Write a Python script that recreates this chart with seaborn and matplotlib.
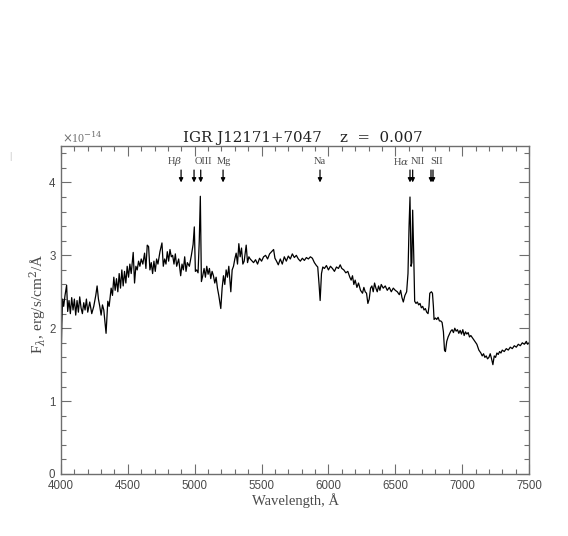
import numpy as np
import pandas as pd
import matplotlib
matplotlib.use("Agg")
import matplotlib.pyplot as plt
from matplotlib.ticker import MultipleLocator
import seaborn as sns

# ---- data ----
wavelength = [
    4000, 4006, 4012, 4020, 4030, 4042, 4050, 4060, 4070, 4080, 4090, 4100, 4110, 4120, 4130, 4140,
    4150, 4160, 4170, 4180, 4190, 4200, 4215, 4230, 4245, 4260, 4270, 4280, 4290, 4300, 4310, 4320,
    4337, 4350, 4360, 4375, 4385, 4395, 4405, 4415, 4425, 4435, 4445, 4455, 4465, 4475, 4485, 4495,
    4505, 4515, 4525, 4540, 4550, 4560, 4570, 4580, 4590, 4600, 4612, 4625, 4635, 4645, 4655, 4665,
    4675, 4685, 4695, 4705, 4715, 4725, 4740, 4755, 4765, 4775, 4785, 4795, 4805, 4815, 4825, 4835,
    4845, 4855, 4865, 4880, 4895, 4905, 4915, 4925, 4935, 4945, 4960, 4975, 4988, 4997, 5005, 5015,
    5025, 5034, 5042, 5050, 5060, 5070, 5080, 5090, 5100, 5110, 5120, 5130, 5140, 5150, 5160, 5170,
    5180, 5195, 5205, 5215, 5225, 5235, 5245, 5255, 5270, 5280, 5290, 5300, 5310, 5320, 5330, 5340,
    5350, 5360, 5370, 5385, 5395, 5405, 5415, 5425, 5440, 5455, 5470, 5485, 5500, 5515, 5530, 5545,
    5560, 5575, 5590, 5600, 5612, 5625, 5640, 5655, 5670, 5685, 5700, 5715, 5730, 5745, 5760, 5775,
    5790, 5805, 5820, 5835, 5850, 5865, 5880, 5895, 5910, 5920, 5930, 5938, 5948, 5958, 5970, 5985,
    6000, 6015, 6030, 6045, 6060, 6075, 6088, 6100, 6115, 6130, 6145, 6160, 6170, 6180, 6190, 6200,
    6213, 6225, 6240, 6255, 6265, 6275, 6285, 6295, 6305, 6315, 6325, 6335, 6345, 6355, 6365, 6375,
    6385, 6395, 6410, 6425, 6440, 6455, 6470, 6485, 6500, 6515, 6530, 6540, 6550, 6560, 6572, 6585,
    6595, 6603, 6610, 6618, 6624, 6630, 6638, 6645, 6655, 6665, 6675, 6685, 6695, 6705, 6715, 6725,
    6735, 6745, 6752, 6758, 6770, 6778, 6785, 6790, 6800, 6810, 6820, 6830, 6840, 6850, 6860, 6868,
    6875, 6885, 6895, 6905, 6915, 6925, 6935, 6945, 6955, 6965, 6975, 6985, 6995, 7005, 7015, 7025,
    7035, 7045, 7055, 7065, 7080, 7095, 7110, 7125, 7140, 7150, 7160, 7170, 7180, 7190, 7200, 7210,
    7220, 7230, 7240, 7250, 7260, 7270, 7280, 7290, 7300, 7315, 7330, 7345, 7360, 7375, 7390, 7405,
    7420, 7435, 7450, 7465, 7480, 7490, 7500,
]
flux = [
    1.50, 2.05, 2.40, 2.30, 2.45, 2.59, 2.23, 2.38, 2.20, 2.42, 2.25, 2.40, 2.18, 2.38, 2.22, 2.43,
    2.28, 2.20, 2.35, 2.25, 2.40, 2.22, 2.36, 2.20, 2.30, 2.45, 2.58, 2.40, 2.30, 2.18, 2.32, 2.25,
    1.93, 2.37, 2.30, 2.55, 2.45, 2.70, 2.52, 2.68, 2.50, 2.75, 2.55, 2.80, 2.58, 2.78, 2.62, 2.85,
    2.70, 2.88, 2.75, 3.04, 2.62, 2.85, 2.80, 2.92, 2.85, 2.95, 2.88, 3.03, 2.82, 3.14, 3.12, 2.80,
    2.90, 2.75, 2.92, 2.78, 2.95, 2.88, 3.05, 3.17, 2.85, 2.95, 2.88, 3.05, 2.92, 3.08, 2.98, 3.00,
    2.88, 3.02, 2.85, 2.95, 2.72, 2.88, 2.80, 2.98, 2.78, 2.90, 2.85, 3.00, 3.15, 3.39, 2.78, 2.80,
    2.76, 3.20, 3.81, 2.64, 2.72, 2.82, 2.70, 2.85, 2.74, 2.82, 2.68, 2.78, 2.72, 2.62, 2.70, 2.55,
    2.45, 2.27, 2.55, 2.72, 2.60, 2.80, 2.70, 2.85, 2.50, 2.80, 2.85, 2.95, 3.03, 2.88, 3.16, 2.98,
    3.10, 2.88, 2.92, 3.14, 2.90, 2.98, 2.95, 2.93, 2.90, 2.94, 2.88, 2.96, 2.92, 2.98, 3.00, 2.95,
    3.02, 3.05, 3.08, 2.96, 2.92, 2.87, 2.95, 2.88, 2.98, 2.92, 2.99, 2.95, 3.02, 2.97, 3.00, 2.95,
    2.92, 2.96, 2.93, 2.97, 2.95, 2.98, 2.96, 2.90, 2.86, 2.84, 2.60, 2.38, 2.75, 2.84, 2.82, 2.86,
    2.80, 2.85, 2.82, 2.78, 2.84, 2.82, 2.87, 2.82, 2.80, 2.76, 2.78, 2.70, 2.66, 2.72, 2.60, 2.66,
    2.56, 2.62, 2.52, 2.48, 2.56, 2.50, 2.48, 2.34, 2.40, 2.55, 2.58, 2.50, 2.62, 2.55, 2.50, 2.58,
    2.52, 2.60, 2.55, 2.58, 2.52, 2.56, 2.50, 2.55, 2.52, 2.50, 2.46, 2.52, 2.42, 2.36, 2.45, 2.50,
    2.75, 3.40, 3.80, 2.85, 2.90, 3.62, 3.00, 2.37, 2.34, 2.36, 2.32, 2.34, 2.28, 2.30, 2.25, 2.27,
    2.22, 2.20, 2.30, 2.48, 2.50, 2.48, 2.30, 2.12, 2.14, 2.12, 2.15, 2.10, 2.10, 2.08, 1.95, 1.70,
    1.68, 1.82, 1.88, 1.92, 1.96, 1.98, 1.94, 2.00, 1.96, 1.98, 1.93, 1.97, 1.92, 1.98, 1.90, 1.95,
    1.92, 1.94, 1.88, 1.90, 1.86, 1.82, 1.78, 1.70, 1.66, 1.62, 1.65, 1.60, 1.62, 1.58, 1.60, 1.65,
    1.58, 1.50, 1.62, 1.60, 1.66, 1.64, 1.68, 1.66, 1.70, 1.68, 1.72, 1.70, 1.74, 1.72, 1.76, 1.74,
    1.78, 1.76, 1.80, 1.78, 1.82, 1.78, 1.80,
]

# line markers: arrow positions and label texts/positions
arrow_wavelengths = [4898, 4995, 5045, 5212, 5937, 6610, 6630, 6767, 6782]
line_labels = ["H$\\beta$", "OIII", "Mg", "Na", "H$\\alpha$", "NII", "SII"]
label_wavelengths = [4850, 5064, 5219, 5937, 6542, 6668, 6808]

title_source = "IGR J12171+7047"
title_redshift = "z  =  0.007"

df = pd.DataFrame({"wavelength": wavelength, "flux": flux})

sns.set_style("ticks")
plt.rcParams["font.family"] = ["Liberation Serif", "DejaVu Serif"]
plt.rcParams["mathtext.fontset"] = "dejavuserif"

GRAY = "#6e6e6e"
TXT = "#4a4a4a"
W, H = 468.0, 328.0

fig = plt.figure(figsize=(5.68, 5.36), dpi=100)
ax = fig.add_axes([61 / 568, 1 - 474 / 536, W / 568, H / 536])

sns.lineplot(data=df, x="wavelength", y="flux", ax=ax, color="black",
             linewidth=0.9, estimator=None, sort=False)

ax.set_xlim(4000, 7500)
ax.set_ylim(0, 4.5)
ax.xaxis.set_major_locator(MultipleLocator(500))
ax.xaxis.set_minor_locator(MultipleLocator(100))
ax.yaxis.set_major_locator(MultipleLocator(1))
ax.yaxis.set_minor_locator(MultipleLocator(0.2))
ax.tick_params(which="both", direction="in", top=True, right=True, colors=GRAY,
               labelcolor=TXT, labelsize=8.3)
ax.tick_params(which="major", length=7, width=0.8)
ax.tick_params(which="minor", length=3.5, width=0.8)
ax.tick_params(axis="x", pad=4.5)
ax.tick_params(axis="y", pad=4)
for lab in ax.get_xticklabels() + ax.get_yticklabels():
    lab.set_fontfamily(["Liberation Sans", "DejaVu Sans"])
for s in ax.spines.values():
    s.set_color(GRAY)
    s.set_linewidth(1.0)

ax.set_xlabel("Wavelength, Å", color=TXT, fontsize=10.5, va="center")
ax.set_ylabel("F$_\\lambda$, erg/s/cm$^2$/Å", color=TXT, fontsize=11, va="center")
ax.xaxis.set_label_coords(0.5, -27 / H)
ax.yaxis.set_label_coords(-23 / W, 0.52)

# arrows
for w in arrow_wavelengths:
    ax.annotate("", xy=(w, 4.0), xytext=(w, 4.17),
                arrowprops=dict(arrowstyle="-|>", color="black", lw=0.9,
                                mutation_scale=6, shrinkA=0, shrinkB=0))
for lab, w in zip(line_labels, label_wavelengths):
    ax.text(w, 4.29, lab, ha="center", va="center", fontsize=7.5, color=TXT)

ax.text((183 - 61) / W, 1.013, title_source, transform=ax.transAxes,
        ha="left", va="baseline", fontsize=10.8, color="#222222",
        family=["DejaVu Serif"])
ax.text((423 - 61) / W, 1.013, title_redshift, transform=ax.transAxes,
        ha="right", va="baseline", fontsize=10.8, color="#222222",
        family=["DejaVu Serif"])
ax.text(0.002, 1.008, "$\\times$10$^{-14}$", transform=ax.transAxes,
        ha="left", va="baseline", fontsize=8.5, color=GRAY)
fig.text(10 / 568, 1 - 156 / 536, "|", ha="center", va="center",
         fontsize=8, color="#aaaaaa")

fig.savefig("out.png", dpi=100)
